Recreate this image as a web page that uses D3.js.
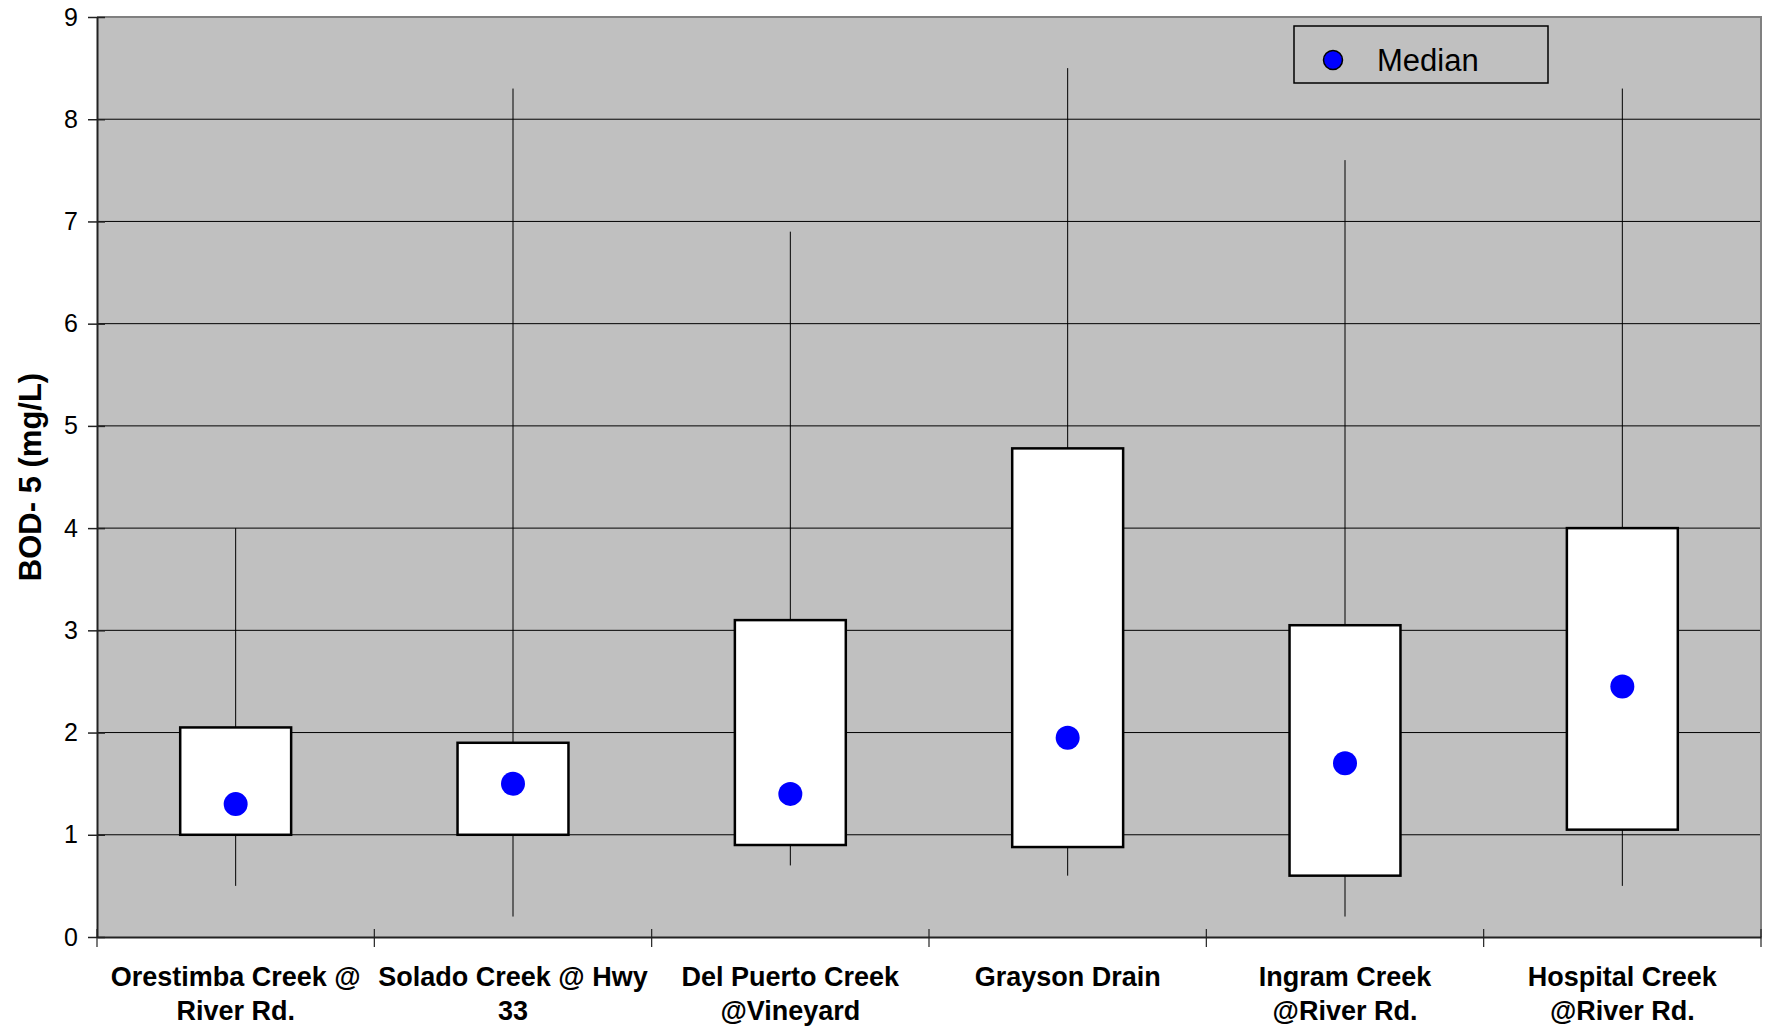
<!DOCTYPE html>
<html>
<head>
<meta charset="utf-8">
<script src="https://cdn.jsdelivr.net/npm/d3@7"></script>
<style>
  body { margin: 0; background: #fff; }
  text { font-family: "Liberation Sans", Arial, sans-serif; }
</style>
</head>
<body>
<div id="chart"></div>
<script>
// data
const categories = [
  "Orestimba Creek @\nRiver Rd.",
  "Solado Creek @ Hwy\n33",
  "Del Puerto Creek\n@Vineyard",
  "Grayson Drain",
  "Ingram Creek\n@River Rd.",
  "Hospital Creek\n@River Rd."
];
const minValues = [0.5, 0.2, 0.7, 0.6, 0.2, 0.5];
const q1Values = [1.0, 1.0, 0.9, 0.88, 0.6, 1.05];
const medianValues = [1.3, 1.5, 1.4, 1.95, 1.7, 2.45];
const q3Values = [2.05, 1.9, 3.1, 4.78, 3.05, 4.0];
const maxValues = [4.0, 8.3, 6.9, 8.5, 7.6, 8.3];
const yTicks = [0, 1, 2, 3, 4, 5, 6, 7, 8, 9];

//size
const width = 1769;
const height = 1030;
const margin = { top: 17, bottom: 93, left: 97, right: 8 };
const innerWidth = width - margin.left - margin.right;
const innerHeight = height - margin.top - margin.bottom;

const data = categories.map((c, i) => ({
  cat: c,
  min: minValues[i],
  q1: q1Values[i],
  med: medianValues[i],
  q3: q3Values[i],
  max: maxValues[i]
}));

//scale
const xScale = d3.scaleBand().domain(categories).range([0, innerWidth]).padding(0);
const yScale = d3.scaleLinear().domain([0, 9]).range([innerHeight, 0]);
const boxW = xScale.bandwidth() * 0.4;

const svg = d3.select("#chart")
  .append("svg")
  .attr("width", width)
  .attr("height", height);

const g = svg.append("g")
  .attr("transform", `translate(${margin.left},${margin.top})`);

// plot area
g.append("rect")
  .attr("width", innerWidth)
  .attr("height", innerHeight)
  .attr("fill", "#c0c0c0");

// gridlines
g.append("g")
  .selectAll("line")
  .data(yTicks.filter((d) => d > 0 && d < 9))
  .join("line")
  .attr("x1", 0)
  .attr("x2", innerWidth)
  .attr("y1", (d) => yScale(d))
  .attr("y2", (d) => yScale(d))
  .attr("stroke", "#000")
  .attr("stroke-width", 1);

// top / right border
g.append("path")
  .attr("d", `M0,${yScale(9)}H${innerWidth}V${innerHeight}`)
  .attr("fill", "none")
  .attr("stroke", "#808080")
  .attr("stroke-width", 2);

// y axis
g.append("g")
  .call(d3.axisLeft(yScale).tickValues(yTicks).tickSize(9).tickSizeOuter(0).tickPadding(10))
  .call((a) => {
    a.select(".domain").attr("stroke", "#222").attr("stroke-width", 2);
    a.selectAll(".tick line").attr("x1", 8).attr("stroke", "#222").attr("stroke-width", 1.5);
    a.selectAll("text").attr("font-size", 25).attr("fill", "#000")
      .attr("font-family", "Liberation Sans, Arial, sans-serif");
  });

// x axis
g.append("g")
  .attr("transform", `translate(0,${innerHeight})`)
  .call(d3.axisBottom(xScale).tickSize(0).tickSizeOuter(0))
  .call((a) => {
    a.select(".domain").attr("stroke", "#222").attr("stroke-width", 2);
    a.selectAll(".tick text").remove();
    a.selectAll(".tick")
      .append("text")
      .attr("fill", "#000")
      .attr("font-size", 27)
      .attr("font-weight", "bold")
      .attr("text-anchor", "middle")
      .attr("font-family", "Liberation Sans, Arial, sans-serif")
      .selectAll("tspan")
      .data((d) => d.split("\n"))
      .join("tspan")
      .attr("x", 0)
      .attr("y", (d, i) => 49 + i * 34)
      .text((d) => d);
  });

// category separators
g.append("g")
  .selectAll("line")
  .data(categories.map((c) => xScale(c)).concat([innerWidth]))
  .join("line")
  .attr("x1", (d) => d)
  .attr("x2", (d) => d)
  .attr("y1", innerHeight - 8)
  .attr("y2", innerHeight + 10)
  .attr("stroke", "#222")
  .attr("stroke-width", 1.2);

// whiskers
const boxes = g.append("g")
  .selectAll("g")
  .data(data)
  .join("g")
  .attr("transform", (d) => `translate(${xScale(d.cat) + xScale.bandwidth() / 2},0)`);

boxes.append("line")
  .attr("y1", (d) => yScale(d.max))
  .attr("y2", (d) => yScale(d.q3))
  .attr("stroke", "#000")
  .attr("stroke-width", 1);

boxes.append("line")
  .attr("y1", (d) => yScale(d.q1))
  .attr("y2", (d) => yScale(d.min))
  .attr("stroke", "#000")
  .attr("stroke-width", 1);

boxes.append("rect")
  .attr("x", -boxW / 2)
  .attr("y", (d) => yScale(d.q3))
  .attr("width", boxW)
  .attr("height", (d) => yScale(d.q1) - yScale(d.q3))
  .attr("fill", "#fff")
  .attr("stroke", "#000")
  .attr("stroke-width", 2.5);

boxes.append("circle")
  .attr("cy", (d) => yScale(d.med))
  .attr("r", 12)
  .attr("fill", "#0000ff");

// y title
svg.append("text")
  .attr("transform", `translate(41,${margin.top + innerHeight / 2}) rotate(-90)`)
  .attr("text-anchor", "middle")
  .attr("font-size", 31)
  .attr("font-weight", "bold")
  .text("BOD- 5 (mg/L)");

// legend
const legend = svg.append("g").attr("transform", "translate(1294,26)");
legend.append("rect")
  .attr("width", 254)
  .attr("height", 57)
  .attr("fill", "#c0c0c0")
  .attr("stroke", "#000")
  .attr("stroke-width", 1.5);
legend.append("circle")
  .attr("cx", 39)
  .attr("cy", 34)
  .attr("r", 9.5)
  .attr("fill", "#0000ff")
  .attr("stroke", "#000")
  .attr("stroke-width", 1.5);
legend.append("text")
  .attr("x", 83)
  .attr("y", 45)
  .attr("font-size", 31)
  .text("Median");
</script>
</body>
</html>
